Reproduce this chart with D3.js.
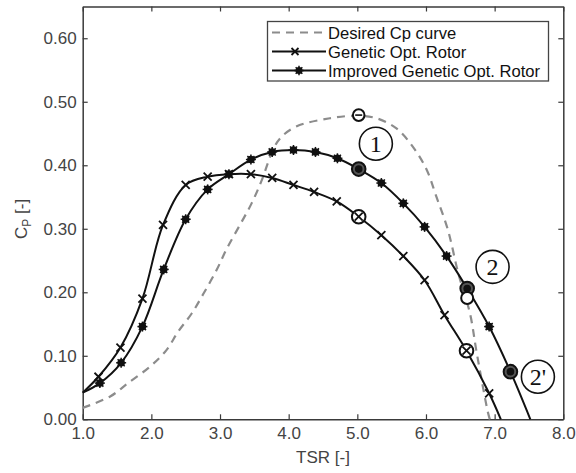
<!DOCTYPE html>
<html><head><meta charset="utf-8">
<script src="https://cdn.jsdelivr.net/npm/d3@7"></script>
<style>body{margin:0;background:#fff}svg{display:block}</style>
</head><body>
<svg id="c" width="576" height="473"></svg>
<script>
// Data
const desiredTSR = [1.0,1.40,1.66,1.98,2.22,2.39,2.59,2.76,2.95,3.10,3.29,3.46,3.61,3.77,3.88,4.11,4.60,5.0,5.28,5.57,5.81,6.01,6.15,6.32,6.47,6.64,6.74,6.90,6.93];
const desiredCp  = [0.018,0.036,0.057,0.083,0.109,0.138,0.167,0.198,0.235,0.269,0.306,0.340,0.377,0.424,0.443,0.461,0.474,0.478,0.474,0.458,0.429,0.393,0.351,0.298,0.230,0.167,0.104,0.012,0.0];
const geneticTSR = [1.0,1.23,1.55,1.87,2.17,2.5,2.82,3.13,3.45,3.76,4.07,4.37,4.70,5.02,5.35,5.67,5.98,6.27,6.59,6.92,7.09];
const geneticCp  = [0.042,0.067,0.113,0.19,0.306,0.369,0.382,0.386,0.386,0.38,0.369,0.358,0.343,0.319,0.29,0.257,0.219,0.164,0.108,0.041,0.0];
const improvedTSR = [1.0,1.25,1.56,1.87,2.18,2.5,2.82,3.13,3.45,3.76,4.07,4.39,4.71,5.02,5.35,5.67,5.98,6.30,6.60,6.92,7.23,7.52];
const improvedCp  = [0.042,0.057,0.089,0.146,0.236,0.315,0.362,0.386,0.409,0.421,0.424,0.421,0.411,0.394,0.372,0.340,0.303,0.257,0.206,0.146,0.075,0.0];
const xTicks = [1,2,3,4,5,6,7,8];
const yTicks = [0,0.1,0.2,0.3,0.4,0.5,0.6];
const legendLabels = ["Desired Cp curve","Genetic Opt. Rotor","Improved Genetic Opt. Rotor"];
// highlighted operating points
const ptMinus = [[5.02,0.479]];
const ptCross = [[5.02,0.319],[6.59,0.108]];
const ptDot   = [[5.02,0.394],[6.60,0.206],[7.23,0.075]];
const ptOpen  = [[6.60,0.191]];
const callouts = [{t:"1",x:5.27,y:0.434},{t:"2",x:6.97,y:0.240},{t:"2'",x:7.63,y:0.067}];

const svg = d3.select("#c");
const L=82.7,R=563.3,T=6.5,B=419.3;
const x = d3.scaleLinear().domain([1,8]).range([L,R]);
const y = d3.scaleLinear().domain([0,0.65]).range([B,T]);
const font = "'Liberation Sans', Arial, sans-serif";
const axCol = "#3a3a3a";

// axes
const gx = svg.append("g").attr("transform",`translate(0,${B})`)
  .call(d3.axisBottom(x).tickValues(xTicks).tickFormat(d3.format(".1f")).tickSizeInner(-5).tickSizeOuter(0).tickPadding(8));
const gy = svg.append("g").attr("transform",`translate(${L},0)`)
  .call(d3.axisLeft(y).tickValues(yTicks).tickFormat(d3.format(".2f")).tickSizeInner(-5).tickSizeOuter(0).tickPadding(6));
const gxt = svg.append("g").attr("transform",`translate(0,${T})`)
  .call(d3.axisTop(x).tickValues(xTicks).tickFormat("").tickSizeInner(-5).tickSizeOuter(0));
const gyr = svg.append("g").attr("transform",`translate(${R},0)`)
  .call(d3.axisRight(y).tickValues(yTicks).tickFormat("").tickSizeInner(-5).tickSizeOuter(0));
[gx,gy,gxt,gyr].forEach(g=>{
  g.select(".domain").attr("stroke",axCol).attr("stroke-width",1.5);
  g.selectAll(".tick line").attr("stroke",axCol).attr("stroke-width",1.2);
  g.selectAll(".tick text").attr("fill","#444").style("font-family",font).style("font-size","17px");
});

// axis labels
svg.append("text").attr("x",(L+R)/2).attr("y",463).attr("text-anchor","middle")
  .style("font-family",font).style("font-size","17px").attr("fill","#444").text("TSR [-]");
const yl = svg.append("text").attr("transform",`translate(27,${(B+T)/2+6}) rotate(-90)`).attr("text-anchor","middle")
  .style("font-family",font).style("font-size","17px").attr("fill","#444");
yl.append("tspan").text("C");
yl.append("tspan").attr("dy",4).style("font-size","12px").text("P");
yl.append("tspan").attr("dy",-4).text(" [-]");

const line = d3.line().x(d=>x(d[0])).y(d=>y(d[1])).curve(d3.curveCatmullRom.alpha(0.5));
const zip=(a,b)=>a.map((v,i)=>[v,b[i]]);
const desired = zip(desiredTSR,desiredCp), genetic = zip(geneticTSR,geneticCp), improved = zip(improvedTSR,improvedCp);

const plot = svg.append("g");
plot.append("path").datum(desired).attr("d",line).attr("fill","none").attr("stroke","#8c8c8c").attr("stroke-width",2.2).attr("stroke-dasharray","8,6");
plot.append("path").datum(genetic).attr("d",line).attr("fill","none").attr("stroke","#111").attr("stroke-width",2);
plot.append("path").datum(improved).attr("d",line).attr("fill","none").attr("stroke","#111").attr("stroke-width",2);

function crossMark(g,px,py,s){
  g.append("path").attr("d",`M${px-s},${py-s}L${px+s},${py+s}M${px-s},${py+s}L${px+s},${py-s}`).attr("stroke","#111").attr("stroke-width",1.8);
}
function dotMark(g,px,py,r){
  g.append("circle").attr("cx",px).attr("cy",py).attr("r",r).attr("fill","#111");
  for(let a=0;a<4;a++){const an=a*Math.PI/4, s=r+1.2;
    g.append("line").attr("x1",px-s*Math.cos(an)).attr("y1",py-s*Math.sin(an)).attr("x2",px+s*Math.cos(an)).attr("y2",py+s*Math.sin(an)).attr("stroke","#111").attr("stroke-width",1.5);}
}
genetic.slice(1,-1).forEach(d=>crossMark(plot,x(d[0]),y(d[1]),4));
improved.slice(1,-1).forEach(d=>dotMark(plot,x(d[0]),y(d[1]),3.8));

// highlighted points
const hr=6.8;
ptMinus.forEach(d=>{const px=x(d[0]),py=y(d[1]);
  plot.append("circle").attr("cx",px).attr("cy",py).attr("r",5.8).attr("fill","#fff").attr("stroke","#111").attr("stroke-width",2);
  plot.append("line").attr("x1",px-3.5).attr("x2",px+3.5).attr("y1",py).attr("y2",py).attr("stroke","#111").attr("stroke-width",1.6);});
ptCross.forEach(d=>{const px=x(d[0]),py=y(d[1]);
  plot.append("circle").attr("cx",px).attr("cy",py).attr("r",hr).attr("fill","#fff").attr("stroke","#111").attr("stroke-width",2);
  crossMark(plot,px,py,4);});
ptDot.forEach(d=>{const px=x(d[0]),py=y(d[1]);
  plot.append("circle").attr("cx",px).attr("cy",py).attr("r",hr).attr("fill","#555").attr("stroke","#111").attr("stroke-width",2);
  plot.append("circle").attr("cx",px).attr("cy",py).attr("r",3.8).attr("fill","#111");});
ptOpen.forEach(d=>{const px=x(d[0]),py=y(d[1]);
  plot.append("circle").attr("cx",px).attr("cy",py).attr("r",hr-0.8).attr("fill","#fff").attr("stroke","#111").attr("stroke-width",2);});

// callouts
callouts.forEach(c=>{const px=x(c.x),py=y(c.y);
  plot.append("circle").attr("cx",px).attr("cy",py).attr("r",16.5).attr("fill","#fff").attr("stroke","#111").attr("stroke-width",1.6);
  plot.append("text").attr("x",px).attr("y",py+8).attr("text-anchor","middle").style("font-family","'Liberation Serif','Times New Roman',serif").style("font-size","24px").attr("fill","#111").text(c.t);
});

// legend
const lg = svg.append("g");
lg.append("rect").attr("x",267.5).attr("y",21.5).attr("width",281).attr("height",59.5).attr("fill","#fff").attr("stroke","#444").attr("stroke-width",1.3);
const rows=[32.5,51.5,70.5];
legendLabels.forEach((t,i)=>{
  const yy=rows[i];
  const ln=lg.append("line").attr("x1",272).attr("x2",326).attr("y1",yy).attr("y2",yy);
  if(i===0) ln.attr("stroke","#8c8c8c").attr("stroke-width",2.2).attr("stroke-dasharray","8,6");
  else ln.attr("stroke","#111").attr("stroke-width",2);
  if(i===1) crossMark(lg,295,yy,3.5);
  if(i===2) dotMark(lg,299,yy,3.5);
  lg.append("text").attr("x",328).attr("y",yy+6).style("font-family",font).style("font-size","16.6px").attr("fill","#111").text(t);
});
</script>
</body></html>
